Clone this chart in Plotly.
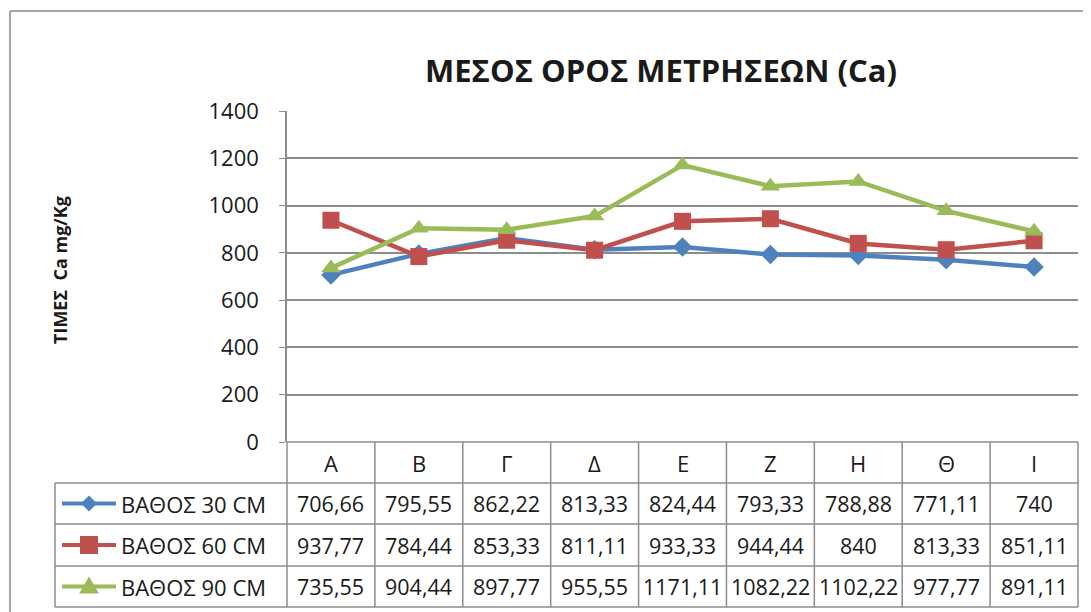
import plotly.graph_objects as go

categories = ["Α", "Β", "Γ", "Δ", "Ε", "Ζ", "Η", "Θ", "Ι"]
series_names = ["ΒΑΘΟΣ 30 CM", "ΒΑΘΟΣ 60 CM", "ΒΑΘΟΣ 90 CM"]
depth30 = [706.66, 795.55, 862.22, 813.33, 824.44, 793.33, 788.88, 771.11, 740]
depth60 = [937.77, 784.44, 853.33, 811.11, 933.33, 944.44, 840, 813.33, 851.11]
depth90 = [735.55, 904.44, 897.77, 955.55, 1171.11, 1082.22, 1102.22, 977.77, 891.11]
y_ticks = [0, 200, 400, 600, 800, 1000, 1200, 1400]
title_text = "ΜΕΣΟΣ ΟΡΟΣ ΜΕΤΡΗΣΕΩΝ (Ca)"
y_title = "ΤΙΜΕΣ  Ca mg/Kg"

series = [depth30, depth60, depth90]
colors = ["#4F81BD", "#C0504D", "#9BBB59"]
symbols = ["diamond", "square", "triangle-up"]
msizes = [15, 17, 17]

OFF = 8  # page body margin
W, H = 1091 - OFF, 612 - OFF
L, R, T, B = 287 - OFF, 1078 - OFF, 111 - OFF, 442 - OFF
FONT = "Open Sans"
GRID = "#8c8c8c"
TXT = "#1a1a1a"


def pxx(p):
    return (p - OFF - L) / (R - L)


def pyy(p):
    return (B - (p - OFF)) / (B - T)


def fmt(v):
    s = ("%.2f" % v).rstrip("0").rstrip(".")
    return s.replace(".", ",")


fig = go.Figure()
for name, vals, c, s, ms in zip(series_names, series, colors, symbols, msizes):
    fig.add_trace(go.Scatter(
        x=categories, y=vals, name=name, mode="lines+markers",
        line=dict(color=c, width=4.5),
        marker=dict(symbol=s, size=ms, color=c),
        cliponaxis=False, showlegend=False,
    ))

shapes = []
annotations = []

# outer chart frame
shapes.append(dict(type="line", xref="paper", yref="paper",
                   x0=pxx(10), x1=pxx(1095), y0=pyy(11), y1=pyy(11),
                   line=dict(color="#a6a6a6", width=2)))
shapes.append(dict(type="line", xref="paper", yref="paper",
                   x0=pxx(10), x1=pxx(10), y0=pyy(11), y1=pyy(620),
                   line=dict(color="#a6a6a6", width=2)))

# data table grid (pixel positions in the reference page)
row_edges = [442, 483, 524, 566, 607]
ncat = len(categories)
Lp, Rp = 287, 1078
colw = (Rp - Lp) / ncat
for i in range(ncat + 1):
    xe = Lp + i * colw
    shapes.append(dict(type="line", xref="paper", yref="paper",
                       x0=pxx(xe), x1=pxx(xe), y0=pyy(row_edges[0]), y1=pyy(row_edges[-1]),
                       line=dict(color=GRID, width=1.5)))
shapes.append(dict(type="line", xref="paper", yref="paper",
                   x0=pxx(55), x1=pxx(55), y0=pyy(row_edges[1]), y1=pyy(row_edges[-1]),
                   line=dict(color=GRID, width=1.5)))
for j, ye in enumerate(row_edges):
    x0 = Lp if j == 0 else 55
    shapes.append(dict(type="line", xref="paper", yref="paper",
                       x0=pxx(x0), x1=pxx(Rp), y0=pyy(ye), y1=pyy(ye),
                       line=dict(color=GRID, width=1.5)))

# header labels
hy = (row_edges[0] + row_edges[1]) / 2
for c in categories:
    annotations.append(dict(x=c, xref="x", y=pyy(hy), yref="paper", text=c,
                            xanchor="center", yanchor="middle",
                            showarrow=False, font=dict(family=FONT, size=22, color=TXT)))

# rows
for r, (name, vals, col, sym) in enumerate(zip(series_names, series, colors, symbols)):
    cy = (row_edges[r + 1] + row_edges[r + 2]) / 2
    for c, v in zip(categories, vals):
        annotations.append(dict(x=c, xref="x", y=pyy(cy), yref="paper", text=fmt(v),
                                xanchor="center", yanchor="middle",
                                showarrow=False, font=dict(family=FONT, size=21.5, color=TXT)))
    annotations.append(dict(x=pxx(119), xref="paper", y=pyy(cy), yref="paper", text=name,
                            xanchor="left", yanchor="middle", showarrow=False,
                            font=dict(family=FONT, size=22, color=TXT)))
    # legend key line
    shapes.append(dict(type="line", xref="paper", yref="paper",
                       x0=pxx(62), x1=pxx(116), y0=pyy(cy), y1=pyy(cy),
                       line=dict(color=col, width=4)))
    mx = 89
    if sym == "diamond":
        d = 8
        path = "M {} {} L {} {} L {} {} L {} {} Z".format(
            pxx(mx), pyy(cy - d), pxx(mx + d), pyy(cy), pxx(mx), pyy(cy + d), pxx(mx - d), pyy(cy))
    elif sym == "square":
        d = 9
        path = "M {} {} L {} {} L {} {} L {} {} Z".format(
            pxx(mx - d), pyy(cy - d), pxx(mx + d), pyy(cy - d), pxx(mx + d), pyy(cy + d), pxx(mx - d), pyy(cy + d))
    else:
        d = 10
        path = "M {} {} L {} {} L {} {} Z".format(
            pxx(mx), pyy(cy - d), pxx(mx + d), pyy(cy + 7), pxx(mx - d), pyy(cy + 7))
    shapes.append(dict(type="path", xref="paper", yref="paper", path=path,
                       fillcolor=col, line=dict(color=col, width=0)))

# y axis title
annotations.append(dict(x=pxx(60), xref="paper", y=pyy(270), yref="paper", text="<b>%s</b>" % y_title,
                        textangle=-90, xanchor="center", yanchor="middle", showarrow=False,
                        font=dict(family=FONT, size=18, color=TXT)))

# title
annotations.append(dict(x=pxx(661), xref="paper", y=pyy(70), yref="paper", text="<b>%s</b>" % title_text,
                        xanchor="center", yanchor="middle", showarrow=False,
                        font=dict(family=FONT, size=31, color=TXT)))

fig.update_layout(
    width=W, height=H,
    margin=dict(l=L, r=W - R, t=T, b=H - B, pad=0),
    paper_bgcolor="white", plot_bgcolor="white",
    shapes=shapes, annotations=annotations,
    showlegend=False,
)
fig.update_xaxes(type="category", range=[-0.5, ncat - 0.5], showticklabels=False,
                 showgrid=False, showline=False, zeroline=False, ticks="")
fig.update_yaxes(range=[0, 1400], tickvals=y_ticks, showgrid=True, gridcolor=GRID, gridwidth=1.5,
                 zeroline=False, showline=True, linecolor=GRID, linewidth=1.5,
                 ticks="outside", ticklen=6, tickcolor=GRID,
                 tickfont=dict(family=FONT, size=22, color=TXT), ticklabelstandoff=16)

fig.write_html("out.html")
